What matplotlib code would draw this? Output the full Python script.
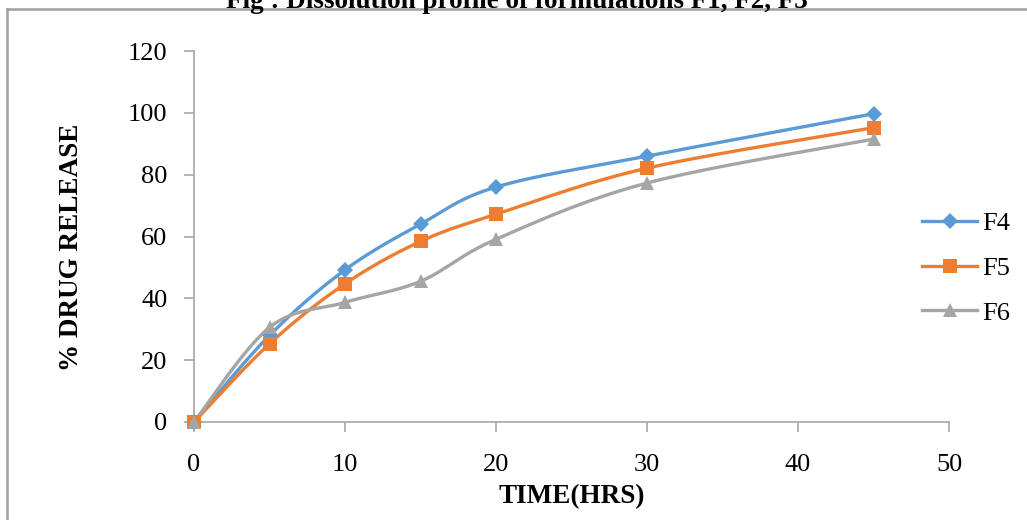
import numpy as np
import matplotlib
matplotlib.use("Agg")
import matplotlib.pyplot as plt
from matplotlib.lines import Line2D

# Dissolution data: cumulative % drug released vs time (hours)
time_hrs = [0, 5, 10, 15, 20, 30, 45]
f4 = [0, 28.0, 49.2, 64.0, 76.0, 86.0, 99.7]
f5 = [0, 25.3, 44.7, 58.4, 67.2, 82.1, 95.2]
f6 = [0, 30.6, 38.7, 45.5, 59.1, 77.3, 91.5]

series_names = ["F4", "F5", "F6"]
series_colors = ["#5B9BD5", "#ED7D31", "#A5A5A5"]
series_markers = ["D", "s", "^"]
marker_sizes = [8.5, 10, 10.5]

x_ticks = [0, 10, 20, 30, 40, 50]
y_ticks = [0, 20, 40, 60, 80, 100, 120]

plt.rcParams["font.family"] = ["Liberation Serif", "DejaVu Serif"]

W, H = 1027, 520


def smooth_curve(xs, ys, steps=40):
    """Cubic Bezier smoothing through every point (spreadsheet-style smoothed line)."""
    p = np.column_stack([xs, ys]).astype(float)
    n = len(p)
    out = []
    for i in range(n - 1):
        p0 = p[i - 1] if i > 0 else p[i]
        p1 = p[i]
        p2 = p[i + 1]
        p3 = p[i + 2] if i + 2 < n else p[i + 1]
        c1 = p1 + (p2 - p0) / 6.0
        c2 = p2 - (p3 - p1) / 6.0
        t = np.linspace(0, 1, steps)[:, None]
        seg = ((1 - t) ** 3) * p1 + 3 * ((1 - t) ** 2) * t * c1 + 3 * (1 - t) * t ** 2 * c2 + t ** 3 * p2
        out.append(seg if i == 0 else seg[1:])
    curve = np.vstack(out)
    return curve[:, 0], curve[:, 1]


fig = plt.figure(figsize=(W / 100, H / 100), dpi=100)
ax = fig.add_axes([194 / W, 1 - 422 / H, (949 - 194) / W, (422 - 51) / H])

for ys, name, color, mk, ms in zip([f4, f5, f6], series_names, series_colors, series_markers, marker_sizes):
    sx, sy = smooth_curve(time_hrs, ys)
    ax.plot(sx, sy, color=color, lw=2.4, solid_capstyle="round", zorder=2, clip_on=False)
    ax.plot(time_hrs, ys, linestyle="none", marker=mk, ms=ms, color=color,
            markeredgewidth=0, zorder=3, clip_on=False)

ax.set_xlim(0, 50)
ax.set_ylim(0, 120)
ax.set_xticks(x_ticks)
ax.set_yticks(y_ticks)

for side in ["top", "right"]:
    ax.spines[side].set_visible(False)
for side in ["left", "bottom"]:
    ax.spines[side].set_color("#A6A6A6")
    ax.spines[side].set_linewidth(1.2)

ax.tick_params(axis="both", which="major", direction="out", length=7, width=1.2,
               color="#A6A6A6", labelsize=19, labelcolor="black")
ax.tick_params(axis="x", pad=16)
ax.tick_params(axis="y", pad=12)

ax.set_xlabel("TIME(HRS)", fontsize=19.5, fontweight="bold", labelpad=6)
ax.set_ylabel("% DRUG RELEASE", fontsize=19.5, fontweight="bold")
ax.yaxis.set_label_coords((84 - 194) / 755, (422 - 247) / 371)

handles = [Line2D([0], [0], color=c, lw=2.4, marker=m, ms=s, markeredgewidth=0)
           for c, m, s in zip(series_colors, series_markers, marker_sizes)]
leg = fig.legend(handles, series_names, loc="upper left",
                 bbox_to_anchor=(922 / W, 1 - 212 / H), bbox_transform=fig.transFigure,
                 frameon=False, fontsize=19, handlelength=2.1, handletextpad=0.2,
                 labelspacing=0.8, borderpad=0, borderaxespad=0)

fig.text(0.503, 1 - 1 / H, "Fig : Dissolution profile of formulations F1, F2, F3",
         ha="center", va="center", fontsize=19.5, fontweight="bold")

# chart frame: left and top border
fig.add_artist(Line2D([7 / W, 7 / W], [0, 1 - 9 / H], transform=fig.transFigure,
                      color="#A0A0A0", lw=1.8))
fig.add_artist(Line2D([7 / W, 1], [1 - 9 / H, 1 - 9 / H], transform=fig.transFigure,
                      color="#A0A0A0", lw=1.8))

fig.savefig("out.png", dpi=100)
